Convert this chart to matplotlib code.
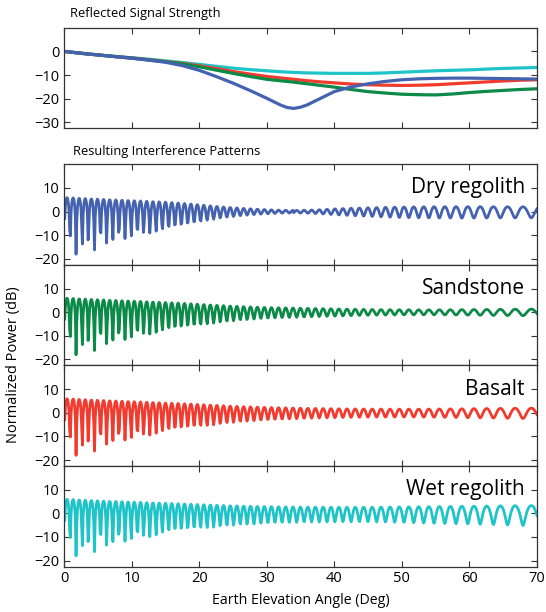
import numpy as np
import matplotlib
matplotlib.use("Agg")
import matplotlib.pyplot as plt

plt.rcParams['font.family'] = ['Open Sans', 'DejaVu Sans']

# elevation angles (deg) where reflected strength was read
angles = [0, 2.5, 5, 7.5, 10, 12.5, 15, 17.5, 20, 22.5, 25, 27.5, 30, 32, 33, 34, 35,
          36, 38, 40, 42.5, 45, 47.5, 50, 52.5, 55, 57.5, 60, 62.5, 65, 67.5, 70]

# reflected signal strength (dB)
dry_regolith = [0, -0.8, -1.5, -2.2, -2.9, -3.7, -4.6, -6.0, -8.0, -10.6, -13.4, -16.5,
                -19.8, -22.6, -23.7, -24.1, -23.6, -22.6, -19.8, -17.0, -15.0, -13.7,
                -12.7, -12.0, -11.6, -11.4, -11.3, -11.3, -11.4, -11.5, -11.6, -11.7]
sandstone = [0, -0.8, -1.5, -2.2, -2.8, -3.6, -4.4, -5.3, -6.5, -7.9, -9.3, -10.6,
             -11.8, -12.4, -12.7, -13.0, -13.35, -13.7, -14.4, -15.1, -16.1, -17.0,
             -17.6, -18.1, -18.3, -18.4, -18.0, -17.4, -16.9, -16.5, -16.1, -15.8]
basalt = [0, -0.8, -1.5, -2.2, -2.8, -3.5, -4.3, -5.1, -6.1, -7.2, -8.5, -9.6,
          -10.6, -11.2, -11.5, -11.8, -12.1, -12.4, -12.9, -13.3, -13.8, -14.1,
          -14.3, -14.4, -14.3, -14.1, -13.7, -13.3, -12.9, -12.5, -12.2, -12.0]
wet_regolith = [0, -0.8, -1.5, -2.1, -2.7, -3.3, -4.0, -4.7, -5.5, -6.3, -7.1, -7.7,
                -8.2, -8.6, -8.75, -8.9, -9.0, -9.1, -9.2, -9.3, -9.3, -9.3,
                -9.1, -8.8, -8.5, -8.2, -8.0, -7.8, -7.5, -7.2, -7.0, -6.8]

names = ['Dry regolith', 'Sandstone', 'Basalt', 'Wet regolith']
series = [dry_regolith, sandstone, basalt, wet_regolith]
colors = ['#4462b0', '#0b8a48', '#f23b2f', '#1ec4c8']
brewster = [34, None, None, None]   # phase flip of the reflection

# interference setup
fringe0 = 0.9    # fringe spacing at grazing (deg)
theta = np.linspace(0, 70, 668)[1:]

edge = '#333333'


def style(ax, ylim, yticks, xlabels=False):
    ax.set_xlim(0, 70)
    ax.set_ylim(*ylim)
    ax.set_yticks(yticks)
    ax.set_xticks(range(0, 71, 10))
    ax.tick_params(direction='in', top=True, right=True, length=4, width=0.8,
                   labelsize=10.5, colors=edge, labelcolor='black', pad=3)
    if not xlabels:
        ax.set_xticklabels([])
    for s in ax.spines.values():
        s.set_color(edge)
        s.set_linewidth(0.9)


fig = plt.figure(figsize=(5.46, 6.12), dpi=100)
L, W = 64 / 546, (537 - 64) / 546
H = 612.0

# top panel
ax0 = fig.add_axes([L, 1 - 128.3 / H, W, 100.6 / H])
for vals, c in zip(series[::-1], colors[::-1]):
    ax0.plot(angles, vals, color=c, lw=2.3, solid_capstyle='round',
             solid_joinstyle='round')
style(ax0, (-32.5, 10), [-30, -20, -10, 0])
fig.text(70 / 546, 1 - 13 / H, 'Reflected Signal Strength', fontsize=9.3,
         va='center', ha='left')

# interference panels
top = 164.3
ph = 100.55
for i, (name, vals, c, b) in enumerate(zip(names, series, colors, brewster)):
    ax = fig.add_axes([L, 1 - (top + (i + 1) * ph) / H, W, ph / H])
    g = 10 ** (np.interp(theta, angles, vals) / 20)
    sign = np.full_like(theta, -1.0)
    if b is not None:
        sign[theta > b] = 1.0
    phi = 2 * np.pi * np.sin(np.radians(theta)) / np.sin(np.radians(fringe0))
    p = 20 * np.log10(np.abs(1 + sign * g * np.exp(1j * phi)))
    ax.plot(theta, p, color=c, lw=2.0)
    style(ax, (-22.5, 20), [-20, -10, 0, 10], xlabels=(i == 3))
    ax.text(68.2, 10, name, fontsize=15, ha='right', va='center')
    if i == 3:
        ax.set_xlabel('Earth Elevation Angle (Deg)', fontsize=10.2, labelpad=5)

fig.text(73 / 546, 1 - 151 / H, 'Resulting Interference Patterns', fontsize=9.3,
         va='center', ha='left')
fig.text(14 / 546, 1 - 365 / H, 'Normalized Power (dB)', fontsize=10.5,
         rotation=90, va='center', ha='center')

fig.savefig('out.png', dpi=100)
